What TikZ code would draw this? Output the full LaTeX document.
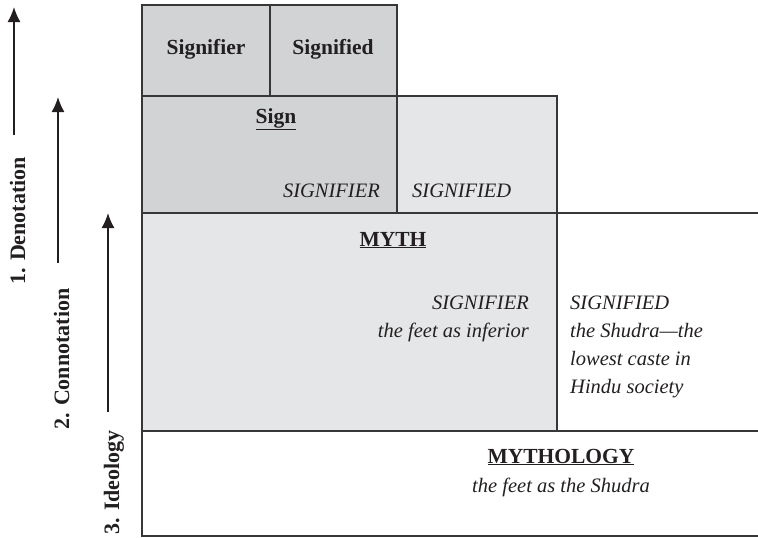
\documentclass[tikz,border=0pt]{standalone}
\usepackage{fontspec}
\setmainfont{Liberation Serif}
\usetikzlibrary{arrows.meta}
\definecolor{darkbox}{RGB}{210,211,213}
\definecolor{lightbox}{RGB}{229,230,231}
\definecolor{rulecol}{RGB}{55,55,55}
\definecolor{inkcol}{RGB}{35,31,32}
\begin{document}
\begin{tikzpicture}[x=1pt,y=-1pt,
  cell/.style={draw=rulecol, line width=1.3pt, inner sep=0pt, outer sep=0pt, anchor=north west},
  edge/.style={draw=rulecol, line width=1.3pt},
  arr/.style={draw=inkcol, line width=1.6pt, -{Latex[length=15pt,width=13pt]}},
  boldlbl/.style={text=inkcol, inner sep=0pt, font=\fontsize{21.5}{26}\selectfont\bfseries},
  sidelbl/.style={text=inkcol, inner sep=0pt, rotate=90, anchor=base west, font=\fontsize{22}{26}\selectfont\bfseries},
  itlbl/.style={text=inkcol, inner sep=0pt, font=\fontsize{20.5}{28}\selectfont\itshape}]
\useasboundingbox (0,0) rectangle (758,538);
% boxes
\node[cell, fill=darkbox, minimum width=128pt, minimum height=91pt] (sigr) at (142,5) {};
\node[cell, fill=darkbox, minimum width=127pt, minimum height=91pt] (sigd) at (270,5) {};
\node[cell, fill=darkbox, minimum width=255pt, minimum height=117pt] (sign) at (142,96) {};
\node[cell, fill=lightbox, minimum width=160pt, minimum height=117pt] (signified) at (397,96) {};
\node[cell, fill=lightbox, minimum width=415pt, minimum height=218pt] (myth) at (142,213) {};
\coordinate (r1) at (758,213);
\coordinate (r2) at (758,431);
\coordinate (r3) at (758,536);
\coordinate (bl) at (142,536);
\draw[edge] (myth.north east) -- (r1);
\draw[edge] (myth.south east) -- (r2);
\draw[edge] (myth.south west) -- (bl) -- (r3);
% texts
\node[boldlbl, anchor=base] (t1) at (206,54) {Signifier};
\node[boldlbl, anchor=base] (t2) at (333,54) {Signified};
\node[boldlbl, anchor=base] (t3) at (276,123) {\underline{Sign}};
\node[itlbl, anchor=base east] (t4) at (380,197) {SIGNIFIER};
\node[itlbl, anchor=base west] (t5) at (412,197) {SIGNIFIED};
\node[boldlbl, anchor=base] (t6) at (393,246) {\underline{MYTH}};
\node[itlbl, anchor=north east, align=right] (t7) at (529,295.5) {SIGNIFIER\\the feet as inferior};
\node[itlbl, anchor=north west, align=left] (t8) at (570,295.5) {SIGNIFIED\\the Shudra—the\\lowest caste in\\Hindu society};
\node[boldlbl, anchor=base] (t9) at (561,463) {\underline{MYTHOLOGY}};
\node[itlbl, anchor=base] (t10) at (561,492) {the feet as the Shudra};
% side arrows and labels
\coordinate (a1s) at (14,135); \coordinate (a1e) at (14,7);
\coordinate (a2s) at (58,263); \coordinate (a2e) at (58,97);
\coordinate (a3s) at (108,412); \coordinate (a3e) at (108,213);
\draw[arr] (a1s) -- (a1e);
\draw[arr] (a2s) -- (a2e);
\draw[arr] (a3s) -- (a3e);
\node[sidelbl] (s1) at (25,285) {1. Denotation};
\node[sidelbl] (s2) at (69,430) {2. Connotation};
\node[sidelbl] (s3) at (119,535) {3. Ideology};
\end{tikzpicture}
\end{document}
